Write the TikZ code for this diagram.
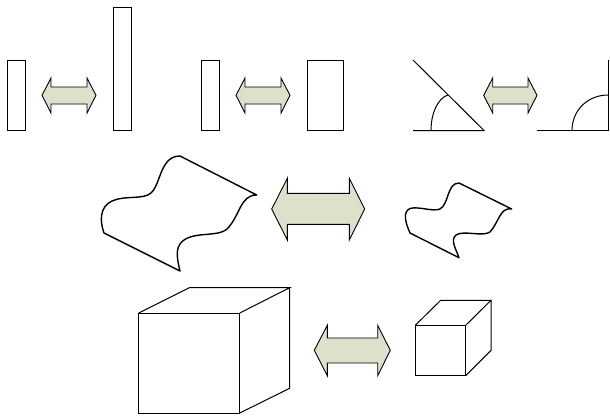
\documentclass[tikz,border=0pt]{standalone}
\usepackage{tikz}
\definecolor{arrowfill}{RGB}{221,224,203}
\tikzset{
  shapeln/.style={line width=1pt, line join=miter, black},
  waveln/.style={line width=1.4pt, line join=round, black},
  arrowln/.style={line width=0.9pt, line join=miter, black, fill=arrowfill},
}

\begin{document}
\begin{tikzpicture}[x=1pt,y=-1pt]
    \useasboundingbox (0,0) rectangle (610,416);
    % top row: rectangles
    \foreach \xl/\yt/\xr in {7/60/25, 113/7/131, 201/60/219, 307/60/343}
      \draw[shapeln] (\xl,\yt) rectangle (\xr,130.5);
    % double arrows: left tip, left neck, right neck, right tip, head top, shaft top, centre, shaft bottom, head bottom
    \foreach \xa/\xb/\xc/\xd/\ya/\yb/\yc/\yd/\ye in {
      42/51/87/96/78/87/95.3/104/113,
      236/245/281/290/78/87/95.3/104/113,
      483.7/492.7/528/537/78/87/95.3/104/113,
      271.7/287.3/349.3/364.7/178.3/193.3/209/224.3/240,
      314.3/327.3/377.7/390.3/325.3/338/350.3/363/375.7}
      \draw[arrowln] (\xa,\yc) -- (\xb,\ya) -- (\xb,\yb) -- (\xc,\yb) -- (\xc,\ya) -- (\xd,\yc)
        -- (\xc,\ye) -- (\xc,\yd) -- (\xb,\yd) -- (\xb,\ye) -- cycle;
    % angles
    \draw[shapeln] (413,60) -- (484,130.5) -- (413,130.5);
    \draw[shapeln] (431,130.5) .. controls (431,113) and (438,98) .. (448,95);
    \draw[shapeln] (537,130.5) -- (608,130.5) -- (608,60);
    \draw[shapeln] (572,130.5) .. controls (572,110) and (588,95) .. (608,95);
    % large sheet
    \draw[waveln] (104,233) .. controls (100,222) and (99,207) .. (112,201)
      .. controls (125,195) and (143,200) .. (151,193)
      .. controls (161,184) and (160,156) .. (180,156)
      -- (256.7,195)
      .. controls (240,195) and (240,216) .. (227,229)
      .. controls (217,238) and (190,230) .. (180,244)
      .. controls (175,251) and (178,262) .. (180,271) -- cycle;
    % small sheet
    \draw[waveln] (410,233) .. controls (406,224) and (402,212) .. (410,208.5)
      .. controls (418,206) and (433,212) .. (440,209)
      .. controls (449,204) and (447,183) .. (459,183)
      -- (511.7,209)
      .. controls (500,207) and (499,222) .. (490,232)
      .. controls (483,237) and (463,230) .. (456,235)
      .. controls (450,240) and (456,249) .. (459,257.7) -- cycle;
    % cubes
    \draw[shapeln] (138.7,313) rectangle (239.7,413);
    \draw[shapeln] (138.7,313) -- (189.3,287.7) -- (289.7,287.7) -- (239.7,313);
    \draw[shapeln] (289.7,287.7) -- (289.7,388.3) -- (239.7,413);
    \draw[shapeln] (415.3,325.3) rectangle (465.7,375.7);
    \draw[shapeln] (415.3,325.3) -- (440.7,300.3) -- (491,300.3) -- (465.7,325.3);
    \draw[shapeln] (491,300.3) -- (491,350.3) -- (465.7,375.7);
  \end{tikzpicture}
\end{document}
